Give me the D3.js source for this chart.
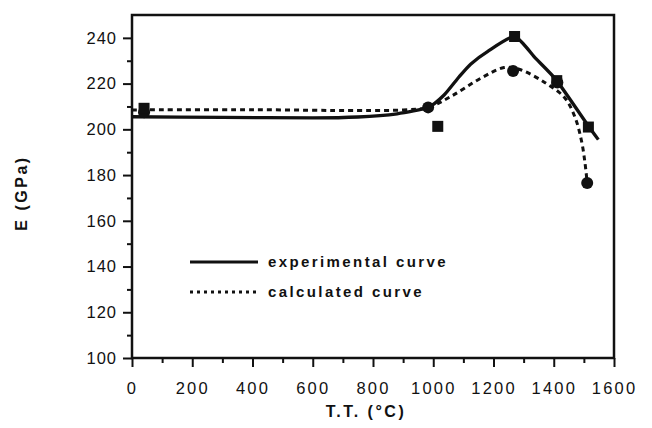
<!DOCTYPE html>
<html>
<head>
<meta charset="utf-8">
<script src="https://cdn.jsdelivr.net/npm/d3@7"></script>
<style>
  body { margin: 0; background: #fff; }
  svg text { font-family: "Liberation Sans", Arial, sans-serif; fill: #111; }
  .tick text { font-size: 16.5px; }
  .xlab .tick text { letter-spacing: 2.2px; }
  .ylab .tick text { letter-spacing: 1px; }
  .domain { display: none; }
  .tick line { stroke: #111; stroke-width: 2; }
</style>
</head>
<body>
<div class="main__area"></div>
<script>
// measured points (T.T. in °C, E in GPa)
const expPoints = [
    { t: 40, e: 209.2 },
    { t: 1015, e: 201.3 },
    { t: 1270, e: 240.6 },
    { t: 1410, e: 221.3 },
    { t: 1515, e: 201 }
];
const calcPoints = [
    { t: 40, e: 207.5 },
    { t: 983, e: 209.6 },
    { t: 1265, e: 225.5 },
    { t: 1412, e: 220.5 },
    { t: 1511, e: 176.5 }
];
// curves
const expCurve = [
    { t: 0, e: 205.5 }, { t: 300, e: 205.2 }, { t: 600, e: 205 }, { t: 750, e: 205.4 },
    { t: 880, e: 206.8 }, { t: 983, e: 209.6 }, { t: 1036, e: 215 }, { t: 1086, e: 223 },
    { t: 1124, e: 228.5 }, { t: 1180, e: 234 }, { t: 1270, e: 240.6 }, { t: 1340, e: 231 },
    { t: 1410, e: 221.3 }, { t: 1512, e: 202 }, { t: 1548, e: 195.5 }
];
const calcCurve = [
    { t: 0, e: 208.5 }, { t: 400, e: 208.6 }, { t: 750, e: 208.2 }, { t: 900, e: 208.5 },
    { t: 983, e: 209.6 }, { t: 1060, e: 214.5 }, { t: 1160, e: 222.5 }, { t: 1235, e: 227 },
    { t: 1285, e: 226.3 }, { t: 1370, e: 220.5 }, { t: 1435, e: 214 }, { t: 1470, e: 205.5 },
    { t: 1492, e: 195 }, { t: 1504, e: 185 }, { t: 1511, e: 176.5 }
];
const xTicks = [0, 200, 400, 600, 800, 1000, 1200, 1400, 1600];
const yTicks = [100, 120, 140, 160, 180, 200, 220, 240];
const legendItems = ["experimental curve", "calculated curve"];

const width = 652;
const height = 428;
const margin = { top: 15, right: 38, bottom: 70, left: 132 };

const svg = d3.select(".main__area").append("svg")
    .attr("width", width)
    .attr("height", height);

const x = d3.scaleLinear().domain([0, 1600]).range([margin.left, width - margin.right]);
const y = d3.scaleLinear().domain([100, 250]).range([height - margin.bottom, margin.top]);

// minor ticks first, then the labelled ones
svg.append("g")
    .attr("transform", `translate(0,${y(100)})`)
    .call(d3.axisBottom(x).tickValues(d3.range(100, 1600, 200)).tickSize(5).tickFormat(""));
svg.append("g")
    .attr("class", "xlab")
    .attr("transform", `translate(0,${y(100)})`)
    .call(d3.axisBottom(x).tickValues(xTicks).tickSize(9).tickPadding(15).tickFormat(d3.format("d")));

svg.append("g")
    .attr("transform", `translate(${x(0)},0)`)
    .call(d3.axisLeft(y).tickValues(d3.range(110, 250, 20)).tickSize(5).tickFormat(""));
svg.append("g")
    .attr("class", "ylab")
    .attr("transform", `translate(${x(0)},0)`)
    .call(d3.axisLeft(y).tickValues(yTicks).tickSize(9).tickPadding(6));

// frame
svg.append("rect")
    .attr("x", x(0)).attr("y", y(250))
    .attr("width", x(1600) - x(0)).attr("height", y(100) - y(250))
    .attr("fill", "none").attr("stroke", "#111").attr("stroke-width", 2.5);

const line = d3.line()
    .x(d => x(d.t))
    .y(d => y(d.e))
    .curve(d3.curveCatmullRom.alpha(0.5));

const expLine = d3.line()
    .x(d => x(d.t))
    .y(d => y(d.e))
    .curve(d3.curveCardinal.tension(0.4));

svg.append("path")
    .datum(calcCurve)
    .attr("d", line)
    .attr("fill", "none").attr("stroke", "#111")
    .attr("stroke-width", 3).attr("stroke-dasharray", "5,4");

svg.append("path")
    .datum(expCurve)
    .attr("d", expLine)
    .attr("fill", "none").attr("stroke", "#111")
    .attr("stroke-width", 3.3);

svg.selectAll(".calc-pt")
    .data(calcPoints)
    .join("circle")
    .attr("class", "calc-pt")
    .attr("cx", d => x(d.t)).attr("cy", d => y(d.e))
    .attr("r", 6).attr("fill", "#111");

const sq = 11;
svg.selectAll(".exp-pt")
    .data(expPoints)
    .join("rect")
    .attr("class", "exp-pt")
    .attr("x", d => x(d.t) - sq / 2).attr("y", d => y(d.e) - sq / 2)
    .attr("width", sq).attr("height", sq)
    .attr("fill", "#111");

// legend
const legendG = svg.append("g").attr("transform", "translate(190,262)");
legendItems.forEach((label, i) => {
    const yPos = i * 30;
    legendG.append("line")
        .attr("x1", 0).attr("x2", 68)
        .attr("y1", yPos).attr("y2", yPos)
        .attr("stroke", "#111")
        .attr("stroke-width", 3)
        .attr("stroke-dasharray", i === 0 ? null : "3,4");
    legendG.append("text")
        .attr("x", 78).attr("y", yPos + 5)
        .attr("font-size", "15px")
        .attr("font-weight", "bold")
        .attr("letter-spacing", "2.4px")
        .text(label);
});

// axis titles
svg.append("text")
    .attr("x", 366).attr("y", 417)
    .attr("text-anchor", "middle")
    .attr("font-size", "16px").attr("font-weight", "bold")
    .attr("letter-spacing", "2.5px")
    .text("T.T. (°C)");

svg.append("text")
    .attr("transform", "translate(27,193) rotate(-90)")
    .attr("text-anchor", "middle")
    .attr("font-size", "16px").attr("font-weight", "bold")
    .attr("letter-spacing", "2.5px")
    .text("E (GPa)");
</script>
</body>
</html>
